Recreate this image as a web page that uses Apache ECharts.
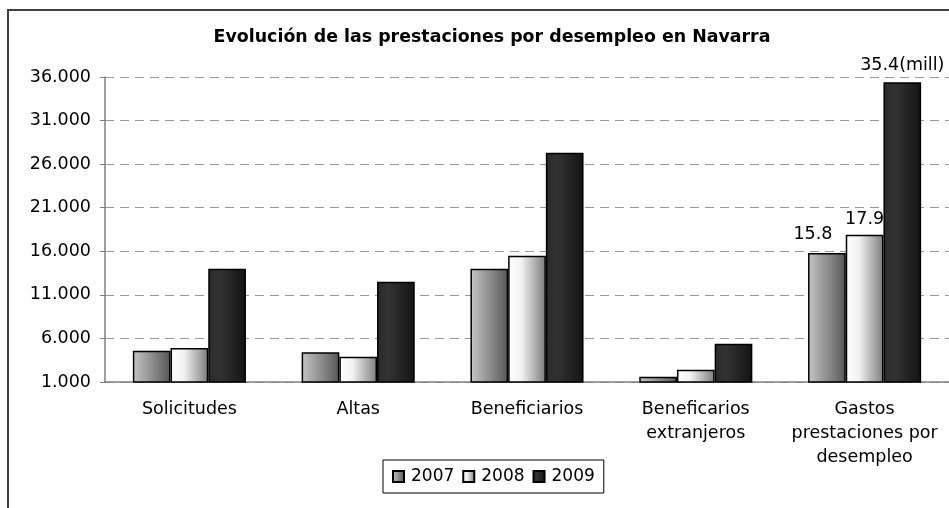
<!DOCTYPE html>
<html>
<head>
<meta charset="utf-8">
<script src="https://cdn.jsdelivr.net/npm/echarts@6/dist/echarts.min.js"></script>
<style>
  html, body { margin: 0; padding: 0; background: #fff; }
  #main { width: 949px; height: 508px; }
</style>
</head>
<body>
<div id="main"></div>
<script>
  // datos
  const categorias = ['Solicitudes', 'Altas', 'Beneficiarios', 'Beneficarios\nextranjeros', 'Gastos\nprestaciones por\ndesempleo'];
  const anios = ['2007', '2008', '2009'];
  const datos2007 = [4600, 4400, 14000, 1600, 15800];
  const datos2008 = [4900, 3900, 15500, 2400, 17900];
  const datos2009 = [14000, 12500, 27300, 5400, 35400];
  // etiquetas solo en gastos (millones)
  const etiquetasGastos = ['15.8', '17.9', '35.4(mill)'];

  const FONT = 'DejaVu Sans';

  function grad(stops) {
    return new echarts.graphic.LinearGradient(0, 0, 1, 0, stops);
  }
  const colores = [
    grad([{offset: 0, color: '#c6c6c6'}, {offset: 1, color: '#575757'}]),
    grad([{offset: 0, color: '#ffffff'}, {offset: 0.35, color: '#f2f2f2'}, {offset: 1, color: '#7c7c7c'}]),
    grad([{offset: 0, color: '#2a2a2a'}, {offset: 0.3, color: '#333333'}, {offset: 1, color: '#131313'}])
  ];
  const offsets = [[-14, -5], [0, -1], [0, -3]];

  function serie(i, valores) {
    return {
      name: anios[i],
      type: 'bar',
      barGap: '0%',
      barCategoryGap: '33%',
      itemStyle: {color: colores[i], borderColor: '#000', borderWidth: 1.5},
      data: valores.map((v, j) => {
        if (j !== valores.length - 1) return v;
        return {
          value: v,
          label: {
            show: true,
            position: 'top',
            offset: offsets[i],
            formatter: etiquetasGastos[i],
            color: '#000',
            fontFamily: FONT,
            fontSize: 17.5
          }
        };
      })
    };
  }

  const miGrafico = echarts.init(document.getElementById('main'));
  let option = {
    animation: false,
    title: {
      text: 'Evolución de las prestaciones por desempleo en Navarra',
      left: 487,
      textAlign: 'center',
      top: 24,
      textStyle: {fontFamily: FONT, fontSize: 17.4, fontWeight: 'bold', color: '#000'}
    },
    legend: {
      data: anios,
      left: 383,
      top: 460,
      itemWidth: 11,
      itemHeight: 11,
      itemGap: 8,
      padding: [8, 9],
      borderColor: '#000',
      borderWidth: 1,
      icon: 'rect',
      textStyle: {fontFamily: FONT, fontSize: 17, color: '#000', padding: [0, 0, 0, 2]}
    },
    grid: {left: 105, right: 0, top: 77, bottom: 126, containLabel: false},
    xAxis: {
      type: 'category',
      data: categorias,
      axisLine: {lineStyle: {color: '#808080', width: 1.5}},
      axisTick: {length: 5, lineStyle: {color: '#808080', width: 1.5}},
      axisLabel: {fontFamily: FONT, fontSize: 17.5, color: '#000', margin: 15, lineHeight: 24, interval: 0}
    },
    yAxis: {
      type: 'value',
      min: 1000,
      max: 36000,
      interval: 5000,
      axisLine: {show: true, lineStyle: {color: '#808080', width: 1.5}},
      axisTick: {show: true, length: 5, lineStyle: {color: '#808080'}},
      axisLabel: {
        fontFamily: FONT, fontSize: 17.5, color: '#000', margin: 14,
        formatter: v => String(v).replace(/\B(?=(\d{3})+(?!\d))/g, '.')
      },
      splitLine: {lineStyle: {color: '#999', type: [9, 6], width: 1.2}}
    },
    graphic: [{
      type: 'rect',
      silent: true,
      shape: {x: 8, y: 10, width: 980, height: 540},
      style: {fill: 'none', stroke: '#404040', lineWidth: 2}
    }],
    series: [
      serie(0, datos2007),
      serie(1, datos2008),
      serie(2, datos2009)
    ]
  };
  miGrafico.setOption(option);
</script>
</body>
</html>
